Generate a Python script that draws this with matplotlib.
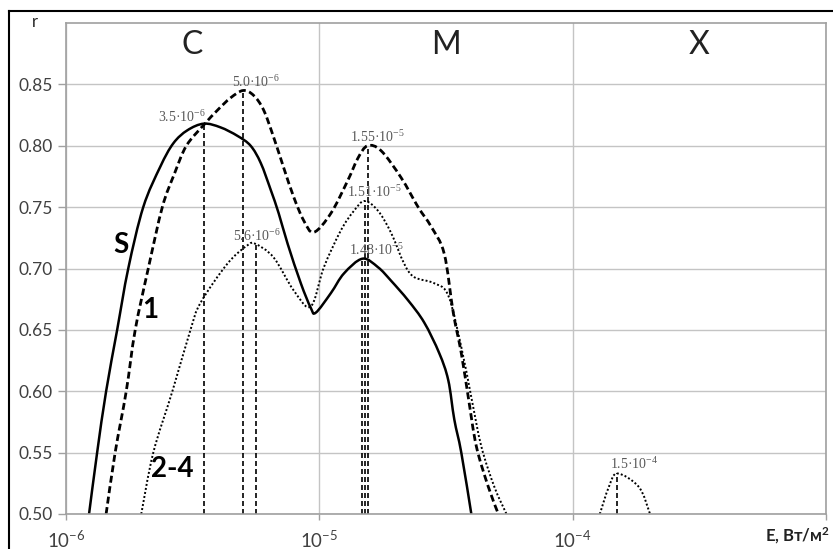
import matplotlib
matplotlib.use('Agg')
import numpy as np
import matplotlib.pyplot as plt
from matplotlib.lines import Line2D
from matplotlib.path import Path
from matplotlib.patches import PathPatch
from matplotlib.ticker import NullLocator

plt.rcParams['font.family'] = ['Lato', 'DejaVu Sans']
plt.rcParams['mathtext.default'] = 'regular'

# кривая S (сплошная)
S_E = [1.233e-6, 1.327e-6, 1.440e-6, 1.592e-6, 1.761e-6, 2.018e-6, 2.357e-6, 2.653e-6,
       3.014e-6, 3.5e-6, 4.07e-6, 4.756e-6, 5.355e-6, 5.87e-6, 6.43e-6, 6.91e-6, 7.50e-6,
       8.45e-6, 9.25e-6, 9.68e-6, 1.111e-5, 1.251e-5, 1.48e-5, 1.705e-5, 1.920e-5,
       2.242e-5, 2.594e-5, 2.974e-5, 3.228e-5, 3.410e-5, 3.634e-5, 3.981e-5]
S_r = [0.50, 0.55, 0.60, 0.65, 0.70, 0.75, 0.783, 0.802,
       0.8126, 0.818, 0.815, 0.808, 0.80, 0.786, 0.764, 0.745, 0.72,
       0.688, 0.668, 0.664, 0.680, 0.696, 0.708, 0.701, 0.690,
       0.674, 0.656, 0.631, 0.609, 0.577, 0.55, 0.50]

# кривая 1 (штриховая)
C1_E = [1.440e-6, 1.563e-6, 1.729e-6, 1.876e-6, 2.112e-6, 2.40e-6, 2.677e-6, 2.987e-6,
        3.5e-6, 3.963e-6, 4.462e-6, 5.0e-6, 5.504e-6, 6.03e-6, 6.60e-6, 7.236e-6,
        7.93e-6, 8.68e-6, 9.51e-6, 1.111e-5, 1.297e-5, 1.421e-5, 1.55e-5, 1.752e-5,
        2.103e-5, 2.455e-5, 2.765e-5, 3.112e-5, 3.378e-5, 3.634e-5, 3.873e-5, 4.168e-5,
        4.648e-5, 5.09e-5]
C1_r = [0.50, 0.55, 0.60, 0.65, 0.70, 0.75, 0.777, 0.80,
        0.817, 0.829, 0.839, 0.845, 0.841, 0.829, 0.807, 0.782,
        0.758, 0.739, 0.7295, 0.745, 0.772, 0.79, 0.80, 0.796,
        0.774, 0.75, 0.734, 0.712, 0.664, 0.631, 0.595, 0.555,
        0.522, 0.50]

# кривая 2-4 (пунктир)
C24_E = [1.982e-6, 2.211e-6, 2.63e-6, 3.10e-6, 3.395e-6, 4.34e-6, 5.21e-6, 5.6e-6,
         6.60e-6, 7.93e-6, 9.25e-6, 1.042e-5, 1.216e-5, 1.370e-5, 1.51e-5, 1.705e-5,
         1.920e-5, 2.161e-5, 2.367e-5, 2.841e-5, 3.228e-5, 3.634e-5, 3.981e-5, 4.36e-5,
         4.91e-5, 5.48e-5]
C24_r = [0.50, 0.55, 0.60, 0.65, 0.672, 0.704, 0.719, 0.72,
         0.709, 0.682, 0.669, 0.701, 0.731, 0.747, 0.755, 0.747,
         0.729, 0.704, 0.693, 0.688, 0.678, 0.636, 0.595, 0.555,
         0.522, 0.50]
C24b_E = [1.28e-4, 1.389e-4, 1.5e-4, 1.826e-4, 2.02e-4]
C24b_r = [0.50, 0.522, 0.533, 0.522, 0.50]

# максимумы
PEAK_E = [3.5e-6, 5.0e-6, 5.6e-6, 1.48e-5, 1.51e-5, 1.55e-5, 1.5e-4]
PEAK_r = [0.818, 0.845, 0.72, 0.708, 0.755, 0.80, 0.533]
PEAK_LABELS = ['3.5·10$^{-6}$', '5.0·10$^{-6}$', '5.6·10$^{-6}$', '1.48·10$^{-5}$',
               '1.51·10$^{-5}$', '1.55·10$^{-5}$', '1.5·10$^{-4}$']
PEAK_OFFSETS = [(-22, 7), (13, 8), (1, 8), (14, 9), (10, 9), (10, 9), (17, 9)]

YTICKS = [0.50, 0.55, 0.60, 0.65, 0.70, 0.75, 0.80, 0.85]
XTICKS = [1e-6, 1e-5, 1e-4, 1e-3]
XTICK_LABELS = ['10$^{-6}$', '10$^{-5}$', '10$^{-4}$', '']
REGIONS = [('C', 3.16e-6), ('M', 3.16e-5), ('X', 3.16e-4)]


def smooth_curve(ax, E, r, **kw):
    # сглаженная линия как в Excel: кубические Безье в координатах (lg E, r)
    P = np.column_stack([np.log10(E), r])
    n = len(P)
    verts = [P[0]]
    codes = [Path.MOVETO]
    for i in range(n - 1):
        a = P[max(i - 1, 0)]
        d = P[min(i + 2, n - 1)]
        c1 = P[i] + (P[i + 1] - a) / 6
        c2 = P[i + 1] - (d - P[i]) / 6
        verts += [c1, c2, P[i + 1]]
        codes += [Path.CURVE4] * 3
    verts = np.array(verts)
    verts[:, 0] = 10 ** verts[:, 0]
    ax.add_patch(PathPatch(Path(verts, codes), fill=False, **kw))


fig = plt.figure(figsize=(8.33, 5.49), dpi=100)
ax = fig.add_axes([66 / 833, 35 / 549, 760 / 833, 491 / 549])

ax.set_xscale('log')
ax.set_xlim(1e-6, 1e-3)
ax.set_ylim(0.5, 0.9)
ax.set_xticks(XTICKS)
ax.set_xticklabels(XTICK_LABELS)
ax.xaxis.set_minor_locator(NullLocator())
ax.set_yticks(YTICKS)
ax.set_yticklabels([f'{v:.2f}' for v in YTICKS])
ax.tick_params(axis='y', length=5.5, width=1, color='#a0a0a0', labelsize=12.5,
               labelcolor='#404040', pad=4)
ax.tick_params(axis='x', length=4, width=1, color='#a0a0a0', labelsize=13.5,
               labelcolor='#404040', pad=7)
ax.grid(True, color='#c4c4c4', lw=1)
ax.set_axisbelow(True)
for sp in ax.spines.values():
    sp.set_color('#a0a0a0')
    sp.set_linewidth(1.2)

smooth_curve(ax, S_E, S_r, edgecolor='black', lw=1.8)
smooth_curve(ax, C1_E, C1_r, edgecolor='black', lw=2.0, linestyle=(0, (2.5, 1.3)))
smooth_curve(ax, C24_E, C24_r, edgecolor='black', lw=1.4, linestyle=(0, (1, 1.1)))
smooth_curve(ax, C24b_E, C24b_r, edgecolor='black', lw=1.4, linestyle=(0, (1, 1.1)))
ax.vlines(PEAK_E, 0.5, PEAK_r, colors='black', lw=1.2, linestyles=(0, (3, 1.8)))

for e, r, lab, off in zip(PEAK_E, PEAK_r, PEAK_LABELS, PEAK_OFFSETS):
    ax.annotate(lab, xy=(e, r), xytext=off, textcoords='offset pixels',
                ha='center', va='center', fontsize=10, color='#595959',
                family=['Liberation Serif', 'DejaVu Serif'])

for name, e in REGIONS:
    ax.text(e, 0.882, name, ha='center', va='center', fontsize=23, color='#222222')

ax.text(1.65e-6, 0.719, 'S', ha='center', va='center', fontsize=20, fontweight='bold')
ax.text(2.15e-6, 0.666, '1', ha='center', va='center', fontsize=20, fontweight='bold')
ax.text(2.63e-6, 0.537, '2-4', ha='center', va='center', fontsize=20, fontweight='bold')

fig.text(830 / 833, 1 - 536 / 549, 'E, Вт/м$^{2}$', ha='right', va='center',
         fontsize=12, fontweight='bold', color='#222222')
fig.text(35 / 833, 1 - 22 / 549, 'r', ha='center', va='center', fontsize=12,
         color='#222222')

# рамка сверху и слева
fig.add_artist(Line2D([9 / 833, 1], [1 - 11 / 549, 1 - 11 / 549], color='black', lw=1.5,
                      transform=fig.transFigure))
fig.add_artist(Line2D([9 / 833, 9 / 833], [0, 1 - 11 / 549], color='black', lw=1.5,
                      transform=fig.transFigure))

fig.savefig('out.png', dpi=100)
